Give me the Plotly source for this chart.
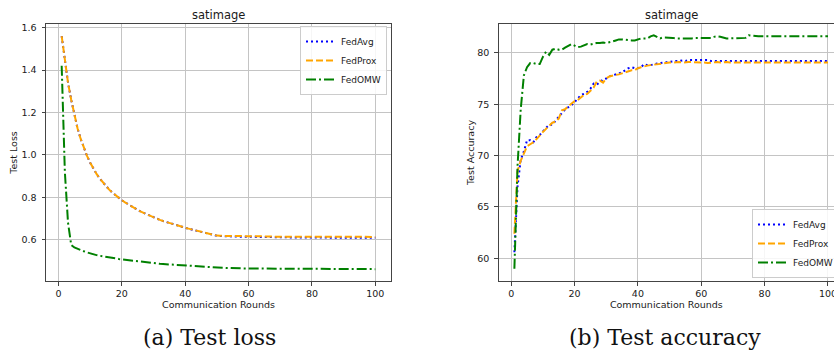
import plotly.graph_objects as go

rounds = list(range(1, 101))

loss_fedavg = [
    1.56, 1.44, 1.34, 1.26, 1.185, 1.125, 1.075, 1.032, 0.995, 0.963,
    0.935, 0.910, 0.888, 0.869, 0.852, 0.836, 0.822, 0.809, 0.797, 0.786,
    0.776, 0.766, 0.757, 0.748, 0.740, 0.732, 0.725, 0.718, 0.711, 0.705,
    0.699, 0.693, 0.688, 0.683, 0.678, 0.673, 0.668, 0.664, 0.660, 0.656,
    0.652, 0.648, 0.644, 0.640, 0.636, 0.632, 0.628, 0.624, 0.620, 0.618,
    0.617, 0.616, 0.616, 0.615, 0.615, 0.615, 0.614, 0.614, 0.614, 0.613,
    0.613, 0.613, 0.613, 0.612, 0.612, 0.612, 0.612, 0.611, 0.611, 0.611,
    0.611, 0.611, 0.610, 0.610, 0.610, 0.610, 0.610, 0.610, 0.610, 0.610,
    0.609, 0.609, 0.609, 0.609, 0.609, 0.609, 0.609, 0.609, 0.609, 0.609,
    0.609, 0.609, 0.609, 0.609, 0.609, 0.609, 0.609, 0.609, 0.609, 0.609,
]
loss_fedprox = [
    1.56, 1.44, 1.34, 1.26, 1.185, 1.125, 1.075, 1.032, 0.995, 0.963,
    0.935, 0.910, 0.888, 0.869, 0.852, 0.836, 0.822, 0.809, 0.797, 0.786,
    0.776, 0.766, 0.757, 0.748, 0.740, 0.732, 0.725, 0.718, 0.711, 0.705,
    0.699, 0.693, 0.688, 0.683, 0.678, 0.673, 0.668, 0.664, 0.660, 0.656,
    0.652, 0.648, 0.644, 0.640, 0.636, 0.632, 0.628, 0.624, 0.621, 0.619,
    0.618, 0.618, 0.617, 0.617, 0.617, 0.617, 0.616, 0.616, 0.616, 0.616,
    0.616, 0.615, 0.615, 0.615, 0.615, 0.615, 0.615, 0.614, 0.614, 0.614,
    0.614, 0.614, 0.614, 0.614, 0.613, 0.613, 0.613, 0.613, 0.613, 0.613,
    0.613, 0.613, 0.613, 0.613, 0.613, 0.613, 0.613, 0.613, 0.613, 0.613,
    0.613, 0.613, 0.613, 0.613, 0.613, 0.613, 0.613, 0.613, 0.613, 0.613,
]
loss_fedomw = [
    1.42, 0.92, 0.68, 0.575, 0.563, 0.556, 0.550, 0.545, 0.540, 0.535,
    0.531, 0.527, 0.524, 0.521, 0.518, 0.515, 0.513, 0.511, 0.509, 0.507,
    0.505, 0.503, 0.501, 0.499, 0.497, 0.495, 0.493, 0.492, 0.491, 0.490,
    0.488, 0.486, 0.485, 0.484, 0.483, 0.481, 0.480, 0.479, 0.477, 0.476,
    0.475, 0.474, 0.473, 0.472, 0.471, 0.470, 0.469, 0.468, 0.468, 0.467,
    0.467, 0.466, 0.466, 0.466, 0.465, 0.465, 0.465, 0.465, 0.464, 0.464,
    0.464, 0.464, 0.464, 0.463, 0.463, 0.463, 0.463, 0.463, 0.463, 0.462,
    0.462, 0.462, 0.462, 0.462, 0.462, 0.462, 0.462, 0.462, 0.462, 0.461,
    0.461, 0.461, 0.461, 0.461, 0.461, 0.461, 0.461, 0.461, 0.461, 0.461,
    0.461, 0.461, 0.461, 0.461, 0.461, 0.461, 0.461, 0.461, 0.461, 0.461,
]

acc_fedavg = [
    60.6, 67.0, 69.6, 70.4, 71.5, 71.5, 71.3, 71.8, 72.0, 72.4,
    72.7, 73.0, 73.0, 73.4, 73.8, 74.2, 74.5, 74.7, 74.9, 75.2,
    75.6, 75.9, 76.0, 76.2, 76.5, 77.0, 76.9, 77.2, 77.4, 77.5,
    77.7, 77.8, 77.9, 78.0, 78.1, 78.3, 78.5, 78.6, 78.5, 78.5,
    78.6, 78.9, 78.8, 78.8, 78.9, 78.95, 79.0, 79.05, 79.1, 79.1,
    79.15, 79.2, 79.2, 79.25, 79.2, 79.3, 79.3, 79.3, 79.3, 79.3,
    79.25, 79.3, 79.2, 79.2, 79.2, 79.2, 79.25, 79.2, 79.2, 79.2,
    79.2, 79.2, 79.2, 79.25, 79.2, 79.2, 79.2, 79.2, 79.2, 79.2,
    79.2, 79.2, 79.2, 79.2, 79.2, 79.2, 79.2, 79.2, 79.2, 79.2,
    79.2, 79.2, 79.2, 79.2, 79.2, 79.2, 79.2, 79.2, 79.2, 79.2,
]
acc_fedprox = [
    62.4, 68.5, 69.5, 70.3, 70.9, 71.1, 71.3, 71.6, 72.0, 72.3,
    72.6, 72.9, 73.2, 73.3, 73.6, 74.4, 74.5, 74.8, 75.1, 75.3,
    75.4, 75.7, 75.9, 76.0, 76.3, 76.6, 77.2, 77.3, 77.1, 77.5,
    77.7, 77.8, 77.85, 77.9, 78.0, 78.1, 78.2, 78.3, 78.3, 78.5,
    78.6, 78.7, 78.75, 78.8, 78.85, 78.9, 78.95, 79.0, 79.0, 79.05,
    79.05, 79.1, 79.1, 79.05, 79.1, 79.1, 79.1, 79.1, 79.05, 79.1,
    79.05, 79.0, 79.05, 79.1, 79.1, 79.05, 79.1, 79.1, 79.05, 79.05,
    79.1, 79.1, 79.05, 79.1, 79.1, 79.05, 79.05, 79.05, 79.05, 79.05,
    79.05, 79.05, 79.05, 79.05, 79.05, 79.05, 79.05, 79.05, 79.05, 79.05,
    79.05, 79.05, 79.05, 79.05, 79.05, 79.05, 79.05, 79.05, 79.05, 79.05,
]
acc_fedomw = [
    59.0, 69.0, 74.5, 77.8, 78.6, 79.0, 79.0, 78.9, 78.9, 79.6,
    80.1, 79.8, 80.3, 80.4, 80.3, 80.3, 80.5, 80.7, 80.85, 80.7,
    80.55, 80.6, 80.7, 80.85, 80.8, 80.9, 80.95, 80.95, 81.0, 80.95,
    81.0, 81.1, 81.2, 81.3, 81.3, 81.25, 81.25, 81.2, 81.2, 81.3,
    81.4, 81.4, 81.4, 81.6, 81.7, 81.55, 81.4, 81.5, 81.5, 81.45,
    81.45, 81.4, 81.4, 81.35, 81.4, 81.4, 81.4, 81.45, 81.45, 81.4,
    81.4, 81.45, 81.45, 81.55, 81.6, 81.55, 81.45, 81.4, 81.4, 81.4,
    81.4, 81.4, 81.4, 81.45, 81.7, 81.65, 81.6, 81.6, 81.6, 81.6,
    81.6, 81.6, 81.6, 81.6, 81.6, 81.6, 81.6, 81.6, 81.6, 81.6,
    81.6, 81.6, 81.6, 81.6, 81.6, 81.6, 81.6, 81.6, 81.6, 81.6,
]

series_names = ["FedAvg", "FedProx", "FedOMW"]
series_colors = ["#0000ff", "#ffa500", "#008000"]
series_dash = ["2px,3px", "7px,3px", "10px,3px,2px,3px"]

x_ticks = [0, 20, 40, 60, 80, 100]
loss_ticks = [0.6, 0.8, 1.0, 1.2, 1.4, 1.6]
acc_ticks = [60, 65, 70, 75, 80]

panel_title = "satimage"
x_label = "Communication Rounds"
loss_label = "Test Loss"
acc_label = "Test Accuracy"
captions = ["(a) Test loss", "(b) Test accuracy"]

W, H = 834, 352
FONT = "DejaVu Sans"
TXT = "#1a1a1a"

fig = go.Figure()

for name, col, dash, ys in zip(series_names, series_colors, series_dash,
                               [loss_fedavg, loss_fedprox, loss_fedomw]):
    fig.add_trace(go.Scatter(x=rounds, y=ys, mode="lines", name=name,
                             line=dict(color=col, width=2, dash=dash),
                             xaxis="x", yaxis="y", legend="legend"))
for name, col, dash, ys in zip(series_names, series_colors, series_dash,
                               [acc_fedavg, acc_fedprox, acc_fedomw]):
    fig.add_trace(go.Scatter(x=rounds, y=ys, mode="lines", name=name,
                             line=dict(color=col, width=2, dash=dash),
                             xaxis="x2", yaxis="y2", legend="legend2"))

ydom = [1 - 281 / H, 1 - 24 / H]
axis_common = dict(showline=True, linecolor="#444444", linewidth=1,
                   showgrid=True, gridcolor="#c4c4c4", gridwidth=1,
                   zeroline=False, ticks="outside", ticklen=3.5,
                   tickcolor="#444444", tickwidth=1,
                   ticklabeloverflow="allow",
                   tickfont=dict(family=FONT, size=9.5, color=TXT))

fig.update_layout(
    width=W, height=H,
    margin=dict(l=0, r=0, t=0, b=0, autoexpand=False),
    paper_bgcolor="white", plot_bgcolor="white",
    font=dict(family=FONT, color=TXT),
    xaxis=dict(domain=[46 / W, 391 / W], range=[-3.95, 104.95],
               tickvals=x_ticks, mirror=True, anchor="y",
               title=dict(text=x_label, font=dict(size=9.5, family=FONT), standoff=3),
               **axis_common),
    yaxis=dict(domain=ydom, range=[0.405, 1.617], tickvals=loss_ticks,
               tickformat=".1f", mirror=True, anchor="x", ticklabelstandoff=3,
               title=dict(text=loss_label, font=dict(size=9.5, family=FONT), standoff=2),
               **axis_common),
    xaxis2=dict(domain=[498.7 / W, 1.0], range=[-3.95, 101.9],
                tickvals=x_ticks, mirror=True, anchor="y2",
                title=dict(text=x_label, font=dict(size=9.5, family=FONT), standoff=3),
                **axis_common),
    yaxis2=dict(domain=ydom, range=[57.8, 82.8], tickvals=acc_ticks,
                mirror=False, anchor="x2", ticklabelstandoff=3,
                title=dict(text=acc_label, font=dict(size=9.5, family=FONT), standoff=0),
                **axis_common),
    legend=dict(x=300 / W, y=1 - 26 / H, xanchor="left", yanchor="top",
                bgcolor="rgba(255,255,255,0.85)", bordercolor="#cccccc",
                borderwidth=1, font=dict(family=FONT, size=9, color=TXT),
                tracegroupgap=0),
    legend2=dict(x=752 / W, y=1 - 278 / H, xanchor="left", yanchor="bottom",
                 bgcolor="rgba(255,255,255,0.85)", bordercolor="#cccccc",
                 borderwidth=1, font=dict(family=FONT, size=9, color=TXT),
                 tracegroupgap=0),
    showlegend=True,
)

annotations = [
    dict(text=panel_title, x=218.5 / W, y=1 - 15 / H, xref="paper", yref="paper",
         xanchor="center", yanchor="middle", showarrow=False,
         font=dict(family=FONT, size=11.5, color=TXT)),
    dict(text=panel_title, x=671 / W, y=1 - 15 / H, xref="paper", yref="paper",
         xanchor="center", yanchor="middle", showarrow=False,
         font=dict(family=FONT, size=11.5, color=TXT)),
    dict(text=captions[0], x=209 / W, y=1 - 337 / H, xref="paper", yref="paper",
         xanchor="center", yanchor="middle", showarrow=False,
         font=dict(family="DejaVu Serif", size=22, color="#111111")),
    dict(text=captions[1], x=665 / W, y=1 - 337 / H, xref="paper", yref="paper",
         xanchor="center", yanchor="middle", showarrow=False,
         font=dict(family="DejaVu Serif", size=22, color="#111111")),
]
fig.update_layout(annotations=annotations)

fig.write_html("out.html", config={"displayModeBar": False},
               post_script="document.body.style.margin='0';document.body.style.overflow='hidden';")
